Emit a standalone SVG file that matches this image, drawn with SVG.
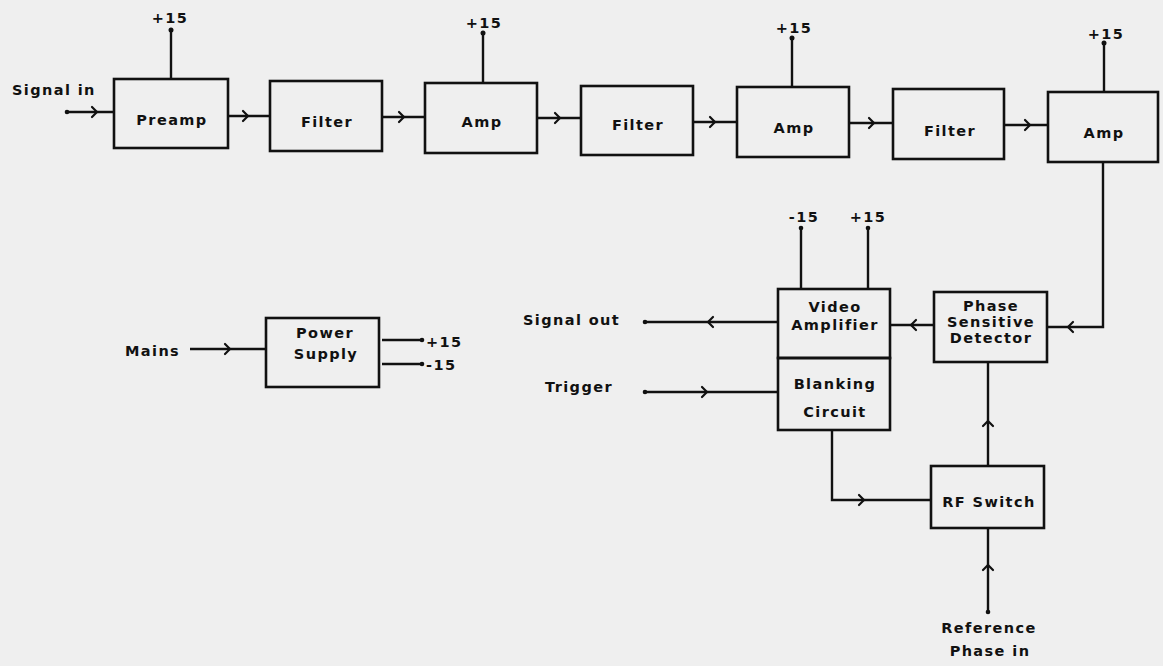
<svg xmlns="http://www.w3.org/2000/svg" xmlns:xlink="http://www.w3.org/1999/xlink" width="1163" height="666" viewBox="0 0 1163 666">
<style>
.box{fill:none;stroke:#111;stroke-width:2.6}
.ln{fill:none;stroke:#111;stroke-width:2.4}
.ch{fill:none;stroke:#111;stroke-width:2.2;stroke-linecap:round;stroke-linejoin:round}
.t{font-family:"DejaVu Sans","Liberation Sans",Arial,sans-serif;font-weight:bold;font-size:14.5px;letter-spacing:1.4px;fill:#111}
.c{text-anchor:middle}
.dot{fill:#111}
</style>
<defs>
<path id="chev" d="M-3,-5 L2,0 L-3,5"/>
</defs>
<rect width="1163" height="666" fill="#efefef"/>

<g id="signal-in"><text class="t" x="12" y="95">Signal in</text></g>
<g id="preamp"><rect class="box" x="114" y="79" width="114" height="69"/><text class="t c" x="172" y="125">Preamp</text><line class="ln" x1="171" y1="30" x2="171" y2="79"/><circle class="dot" cx="171" cy="30" r="2.5"/><text class="t c" x="170" y="23">+15</text></g>
<g id="filter1"><rect class="box" x="270" y="81" width="112" height="70"/><text class="t c" x="327" y="127">Filter</text></g>
<g id="amp1"><rect class="box" x="425" y="83" width="112" height="70"/><text class="t c" x="482" y="127">Amp</text><line class="ln" x1="483" y1="33" x2="483" y2="83"/><circle class="dot" cx="483" cy="33" r="2.5"/><text class="t c" x="484" y="28">+15</text></g>
<g id="filter2"><rect class="box" x="581" y="86" width="112" height="69"/><text class="t c" x="638" y="130">Filter</text></g>
<g id="amp2"><rect class="box" x="737" y="87" width="112" height="70"/><text class="t c" x="794" y="133">Amp</text><line class="ln" x1="792" y1="38" x2="792" y2="87"/><circle class="dot" cx="792" cy="38" r="2.5"/><text class="t c" x="794" y="33">+15</text></g>
<g id="filter3"><rect class="box" x="893" y="89" width="111" height="70"/><text class="t c" x="950" y="136">Filter</text></g>
<g id="amp3"><rect class="box" x="1048" y="92" width="110" height="70"/><text class="t c" x="1104" y="138">Amp</text><line class="ln" x1="1104" y1="43" x2="1104" y2="92"/><circle class="dot" cx="1104" cy="43" r="2.5"/><text class="t c" x="1106" y="39">+15</text></g>

<g id="power-supply"><rect class="box" x="266" y="318" width="113" height="69"/><text class="t c" x="325" y="338">Power</text><text class="t c" x="326" y="359">Supply</text>
<text class="t" x="125" y="356">Mains</text>
<line class="ln" x1="382" y1="340" x2="422" y2="340"/><circle class="dot" cx="422" cy="340" r="2.3"/><text class="t" x="426" y="347">+15</text>
<line class="ln" x1="382" y1="364" x2="422" y2="364"/><circle class="dot" cx="422" cy="364" r="2.3"/><text class="t" x="426" y="370">-15</text></g>

<g id="video-amplifier"><rect class="box" x="778" y="289" width="112" height="69"/><text class="t c" x="835" y="312">Video</text><text class="t c" x="835" y="330">Amplifier</text>
<line class="ln" x1="801" y1="228" x2="801" y2="289"/><circle class="dot" cx="801" cy="228" r="2.3"/><text class="t c" x="804" y="222">-15</text>
<line class="ln" x1="868" y1="228" x2="868" y2="289"/><circle class="dot" cx="868" cy="228" r="2.3"/><text class="t c" x="868" y="222">+15</text></g>
<g id="blanking-circuit"><rect class="box" x="778" y="358" width="112" height="72"/><text class="t c" x="835" y="389">Blanking</text><text class="t c" x="835" y="417">Circuit</text></g>
<g id="signal-out"><text class="t" x="523" y="325">Signal out</text></g>
<g id="trigger"><text class="t" x="545" y="392">Trigger</text></g>
<g id="phase-detector"><rect class="box" x="934" y="292" width="113" height="70"/><text class="t c" x="991" y="311">Phase</text><text class="t c" x="991" y="327">Sensitive</text><text class="t c" x="991" y="343">Detector</text></g>
<g id="rf-switch"><rect class="box" x="931" y="466" width="113" height="62"/><text class="t c" x="989" y="507">RF Switch</text></g>
<g id="reference"><text class="t c" x="989" y="633">Reference</text><text class="t c" x="990" y="656">Phase in</text></g>

<g id="connectors">
<line class="ln" x1="67" y1="112" x2="114" y2="112"/><circle class="dot" cx="67" cy="112" r="2.3"/><use xlink:href="#chev" class="ch" transform="translate(95,112)"/>
<line class="ln" x1="228" y1="116" x2="270" y2="116"/><use xlink:href="#chev" class="ch" transform="translate(246,116)"/>
<line class="ln" x1="382" y1="117" x2="425" y2="117"/><use xlink:href="#chev" class="ch" transform="translate(402,117)"/>
<line class="ln" x1="537" y1="118" x2="581" y2="118"/><use xlink:href="#chev" class="ch" transform="translate(558,118)"/>
<line class="ln" x1="693" y1="122" x2="737" y2="122"/><use xlink:href="#chev" class="ch" transform="translate(713,122)"/>
<line class="ln" x1="849" y1="123" x2="893" y2="123"/><use xlink:href="#chev" class="ch" transform="translate(872,123)"/>
<line class="ln" x1="1004" y1="125" x2="1048" y2="125"/><use xlink:href="#chev" class="ch" transform="translate(1028,125)"/>
<polyline class="ln" points="1103,162 1103,327 1047,327"/><use xlink:href="#chev" class="ch" transform="translate(1070,327) rotate(180)"/>
<line class="ln" x1="890" y1="325" x2="934" y2="325"/><use xlink:href="#chev" class="ch" transform="translate(913,325) rotate(180)"/>
<line class="ln" x1="645" y1="322" x2="778" y2="322"/><circle class="dot" cx="645" cy="322" r="2.3"/><use xlink:href="#chev" class="ch" transform="translate(710,322) rotate(180)"/>
<line class="ln" x1="645" y1="392" x2="778" y2="392"/><circle class="dot" cx="645" cy="392" r="2.3"/><use xlink:href="#chev" class="ch" transform="translate(705,392)"/>
<line class="ln" x1="190" y1="349" x2="266" y2="349"/><use xlink:href="#chev" class="ch" transform="translate(228,349)"/>
<polyline class="ln" points="832,430 832,500 931,500"/><use xlink:href="#chev" class="ch" transform="translate(862,500)"/>
<line class="ln" x1="988" y1="466" x2="988" y2="362"/><use xlink:href="#chev" class="ch" transform="translate(988,423) rotate(-90)"/>
<line class="ln" x1="988" y1="612" x2="988" y2="528"/><circle class="dot" cx="988" cy="612" r="2.3"/><use xlink:href="#chev" class="ch" transform="translate(988,567) rotate(-90)"/>
</g>
</svg>
